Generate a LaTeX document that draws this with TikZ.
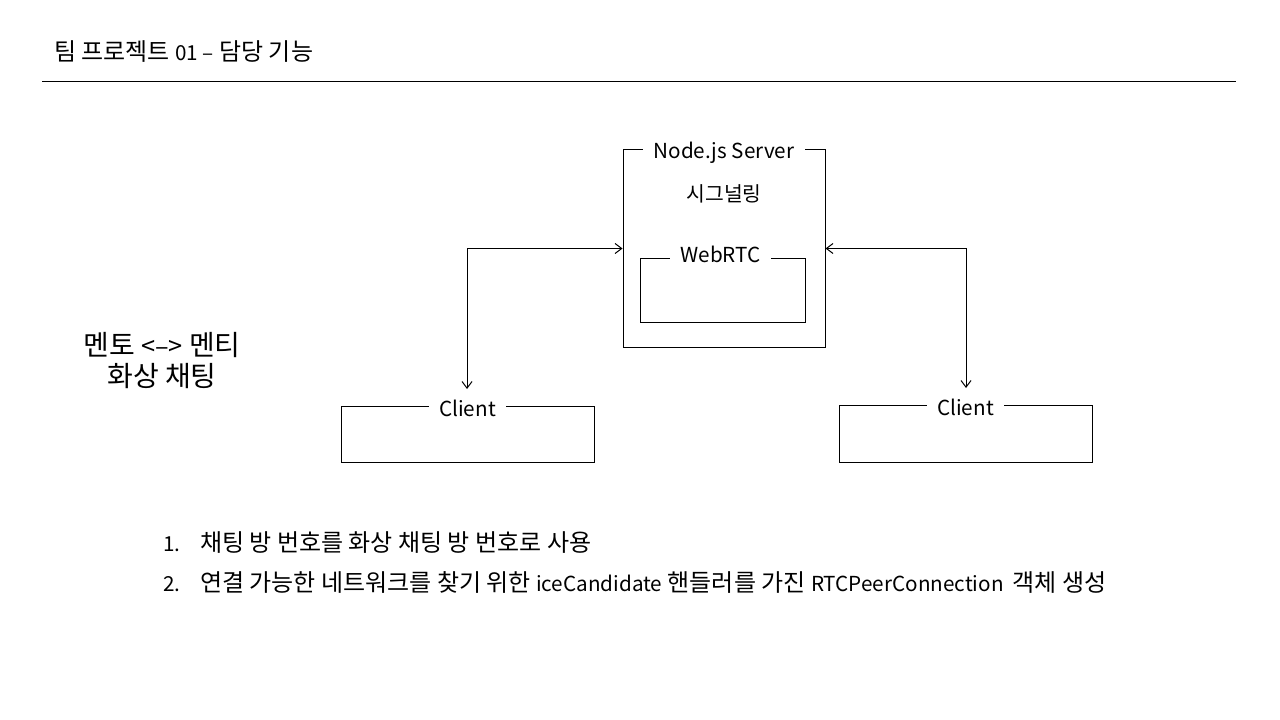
\documentclass[tikz,border=0pt]{standalone}
\usepackage{fontspec}
\setmainfont{Noto Sans CJK KR}
\usetikzlibrary{arrows.meta}
\newcommand{\lt}[1]{{\fontsize{15.5pt}{19pt}\selectfont #1}}
\begin{document}
\begin{tikzpicture}[x=0.75pt,y=-0.75pt,
  box/.style={draw,line width=0.75pt,inner sep=0pt},
  lbl/.style={fill=white,inner xsep=8pt,inner ysep=1pt,font=\fontsize{15.5pt}{19pt}\selectfont},
  txt/.style={inner sep=0pt,font=\fontsize{18pt}{21pt}\selectfont},
  biarr/.style={line width=0.75pt,{Straight Barb[length=5pt,width=7.5pt]}-{Straight Barb[length=5pt,width=7.5pt]}}]
\useasboundingbox (0,0) rectangle (1280,720);
% title
\node[txt,anchor=west] (title) at (54,52) {팀 프로젝트 \lt{01 –} 담당 기능};
\coordinate (rl) at (42,82);
\coordinate (rr) at (1236,82);
\draw[line width=0.75pt] (rl) -- (rr);
% server
\node[box,minimum width=151.5pt,minimum height=147.75pt] (srv) at (724,248.5) {};
\node[lbl,yshift=-2.5pt] (srvl) at (srv.north) {Node.js Server};
\node[txt,font=\fontsize{15.3pt}{18pt}\selectfont] (sig) at (724,194) {시그널링};
\node[box,minimum width=123.75pt,minimum height=48pt] (web) at (722.5,290) {};
\node[lbl,xshift=-1.5pt,yshift=2.5pt] (webl) at (web.north) {WebRTC};
% clients
\node[box,minimum width=189.75pt,minimum height=42pt] (clL) at (467.5,434) {};
\node[lbl,yshift=-2.5pt] (clLl) at (clL.north) {Client};
\node[box,minimum width=189.75pt,minimum height=42.75pt] (clR) at (965.5,433.5) {};
\node[lbl,yshift=-2.5pt] (clRl) at (clR.north) {Client};
% arrows
\coordinate (tL) at (467,389);
\coordinate (tR) at (966,388);
\draw[biarr] (tL) |- (srv.west);
\draw[biarr] (tR) |- (srv.east);
% left text
\node[txt,align=center,font=\fontsize{21pt}{23.25pt}\selectfont] (mt) at (162,361) {멘토 {\fontsize{19pt}{20pt}\selectfont <–>} 멘티\\화상 채팅};
% list
\node[txt,anchor=west] (i1) at (163,543) {\makebox[27.75pt][l]{\lt{1.}}채팅 방 번호를 화상 채팅 방 번호로 사용};
\node[txt,anchor=west] (i2) at (163,582) {\makebox[27.75pt][l]{\lt{2.}}연결 가능한 네트워크를 찾기 위한 \lt{iceCandidate} 핸들러를 가진 \lt{RTCPeerConnection\ \ }객체 생성};
\end{tikzpicture}
\end{document}
